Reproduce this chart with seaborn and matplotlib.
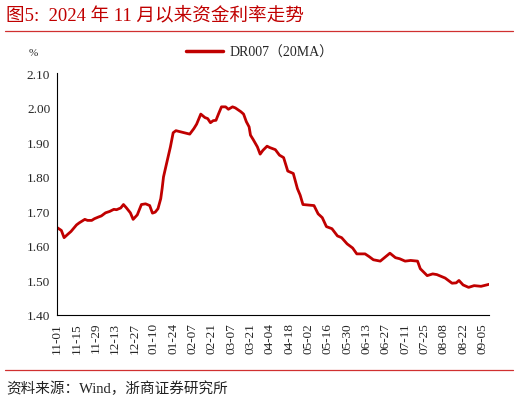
import pandas as pd
import seaborn as sns
import matplotlib.pyplot as plt
import matplotlib.dates as mdates
from matplotlib.lines import Line2D

dates = ['2024-11-01', '2024-11-04', '2024-11-06', '2024-11-09', '2024-11-11', '2024-11-15',
         '2024-11-17', '2024-11-21', '2024-11-23', '2024-11-26', '2024-11-28', '2024-12-01',
         '2024-12-03', '2024-12-06', '2024-12-09', '2024-12-12', '2024-12-14', '2024-12-17',
         '2024-12-19', '2024-12-21', '2024-12-24', '2024-12-26', '2024-12-29', '2025-01-01',
         '2025-01-04', '2025-01-07', '2025-01-09', '2025-01-11', '2025-01-13', '2025-01-15',
         '2025-01-16', '2025-01-17', '2025-01-19', '2025-01-22', '2025-01-24', '2025-01-26',
         '2025-02-05', '2025-02-08', '2025-02-10', '2025-02-13', '2025-02-16', '2025-02-18',
         '2025-02-20', '2025-02-22', '2025-02-24', '2025-02-26', '2025-02-28', '2025-03-03',
         '2025-03-05', '2025-03-08', '2025-03-10', '2025-03-14', '2025-03-16', '2025-03-18',
         '2025-03-20', '2025-03-21', '2025-03-23', '2025-03-26', '2025-03-28', '2025-03-30',
         '2025-04-02', '2025-04-04', '2025-04-08', '2025-04-11', '2025-04-14', '2025-04-17',
         '2025-04-21', '2025-04-24', '2025-04-26', '2025-04-28', '2025-05-06', '2025-05-09',
         '2025-05-12', '2025-05-15', '2025-05-19', '2025-05-23', '2025-05-26', '2025-05-30',
         '2025-06-03', '2025-06-06', '2025-06-12', '2025-06-15', '2025-06-18', '2025-06-23',
         '2025-06-30', '2025-07-04', '2025-07-07', '2025-07-11', '2025-07-15', '2025-07-20',
         '2025-07-22', '2025-07-27', '2025-07-31', '2025-08-03', '2025-08-09', '2025-08-14',
         '2025-08-17', '2025-08-19', '2025-08-22', '2025-08-26', '2025-08-30', '2025-09-04',
         '2025-09-10']
dr007_20ma = [1.653, 1.645, 1.624, 1.635, 1.642, 1.661,
              1.667, 1.677, 1.674, 1.674, 1.679, 1.684,
              1.687, 1.696, 1.700, 1.706, 1.705, 1.710,
              1.720, 1.711, 1.696, 1.677, 1.690, 1.720,
              1.722, 1.717, 1.695, 1.698, 1.708, 1.737,
              1.766, 1.800, 1.835, 1.887, 1.928, 1.934,
              1.924, 1.940, 1.953, 1.982, 1.972, 1.969,
              1.957, 1.963, 1.964, 1.984, 2.003, 2.003,
              1.996, 2.003, 2.000, 1.989, 1.982, 1.960,
              1.945, 1.921, 1.908, 1.887, 1.866, 1.877,
              1.889, 1.885, 1.879, 1.863, 1.856, 1.817,
              1.810, 1.766, 1.747, 1.720, 1.717, 1.693,
              1.682, 1.656, 1.650, 1.629, 1.624, 1.606,
              1.594, 1.577, 1.577, 1.569, 1.560, 1.556,
              1.579, 1.566, 1.563, 1.556, 1.558, 1.556,
              1.534, 1.514, 1.519, 1.517, 1.507, 1.492,
              1.493, 1.500, 1.487, 1.480, 1.485, 1.483,
              1.489]
y_ticks = [1.40, 1.50, 1.60, 1.70, 1.80, 1.90, 2.00, 2.10]

df = pd.DataFrame({'date': pd.to_datetime(dates), 'rate': dr007_20ma})

sns.set_style('white')
plt.rcParams['font.family'] = ['Liberation Serif', 'Noto Sans CJK SC']

red = '#C00000'
fig = plt.figure(figsize=(5.2, 4.02), dpi=100)
ax = fig.add_axes([0.110, 0.214, 0.831, 0.601])

sns.lineplot(data=df, x='date', y='rate', ax=ax, color=red, linewidth=2.0)

ax.set_ylim(1.40, 2.10)
ax.set_yticks(y_ticks)
ax.set_yticklabels([f'{v:.2f}' for v in y_ticks], fontsize=9.5)
ax.set_xlim(pd.Timestamp('2024-11-01'), pd.Timestamp('2025-09-10'))
ax.set_xticks(pd.date_range('2024-11-01', '2025-09-05', freq='14D'))
ax.xaxis.set_major_formatter(mdates.DateFormatter('%m-%d'))
plt.setp(ax.get_xticklabels(), rotation=90, fontsize=9.5)
ax.set_xlabel('')
ax.set_ylabel('')
for s in ['top', 'right']:
    ax.spines[s].set_visible(False)
for s in ['left', 'bottom']:
    ax.spines[s].set_color('black')
    ax.spines[s].set_linewidth(0.8)
ax.tick_params(axis='both', direction='out', length=3, width=0.8, color='black', pad=2)

handle = Line2D([], [], color=red, linewidth=2.5)
fig.legend([handle], ['DR007（20MA）'], loc='center', bbox_to_anchor=(0.5, 0.868),
           frameon=False, fontsize=10, handlelength=2.6, handletextpad=0.5)

fig.text(0.063, 0.868, '%', fontsize=8, ha='center', va='center')
fig.text(0.012, 0.962, '图5:  2024 年 11 月以来资金利率走势', fontsize=13.4, color=red,
         ha='left', va='center')
fig.add_artist(Line2D([0.01, 0.987], [0.921, 0.921], color='#D03030', linewidth=0.9))
fig.add_artist(Line2D([0.01, 0.987], [0.077, 0.077], color='#D03030', linewidth=0.9))
fig.text(0.012, 0.033, '资料来源：Wind，浙商证券研究所', fontsize=10.5, color='#222222',
         ha='left', va='center')

fig.savefig('out.png', dpi=100)
